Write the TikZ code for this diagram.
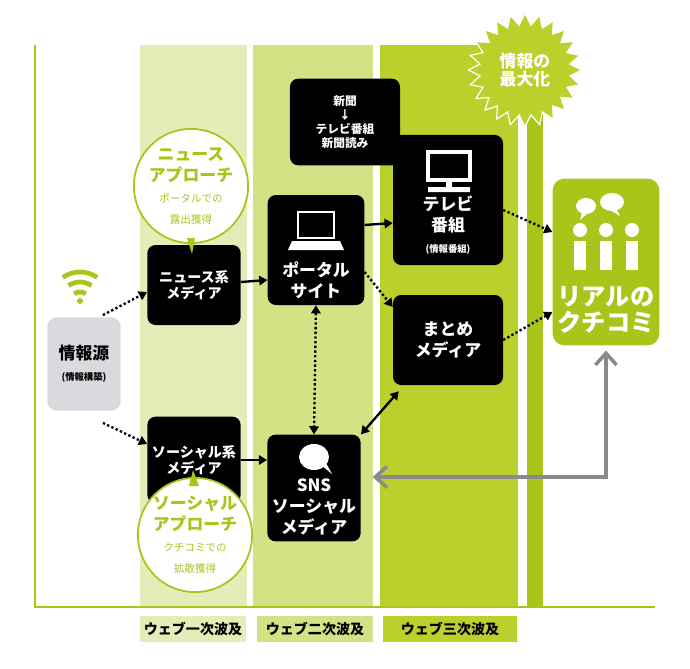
\documentclass[tikz,border=0pt]{standalone}
\usepackage{fontspec}
\setmainfont{Noto Sans CJK JP}
\usetikzlibrary{shapes.geometric,arrows.meta,positioning}
\definecolor{lineg}{HTML}{A8C61A}
\definecolor{bandA}{HTML}{E4ECB8}
\definecolor{bandB}{HTML}{D4E185}
\definecolor{bandC}{HTML}{BCD02C}
\definecolor{srcgray}{HTML}{D9DADE}
\definecolor{backgray}{HTML}{8A8A8C}
\tikzset{
  medbox/.style={fill=black,rounded corners=7pt,text=white,font=\bfseries\large,align=center,inner sep=0pt},
  bubble/.style={circle,draw=lineg,line width=1.5pt,fill=white,align=center,inner sep=0pt,minimum size=3.1cm,
                 text=lineg,font=\bfseries\Large},
  dotarrow/.style={line width=2pt,dotted,-{Triangle[length=7pt,width=8pt]}},
  solarrow/.style={line width=2pt,-{Triangle[length=7pt,width=8pt]}},
  bandlabel/.style={font=\bfseries\large,inner sep=0pt,minimum height=0.8cm}
}
\begin{document}
\begin{tikzpicture}[x=0.03cm,y=-0.03cm]
  \useasboundingbox (0,0) rectangle (690,669);

  % bands
  \fill[bandA] (140,45) rectangle (247,607);
  \fill[bandB] (253,45) rectangle (373,607);
  \fill[bandC] (380,45) rectangle (518,607);
  \fill[lineg] (527,45) rectangle (543,607);
  \draw[lineg,line width=2pt] (35,45) -- (35,607) -- (655,607);

  % band labels
  \node[bandlabel,fill=bandA,minimum width=3.2cm] (w1) at (193,629) {ウェブ一次波及};
  \node[bandlabel,fill=bandB,minimum width=3.5cm] (w2) at (315,629) {ウェブ二次波及};
  \node[bandlabel,fill=bandC,minimum width=4cm] (w3) at (450,629) {ウェブ三次波及};

  % starburst
  \node[star,star points=24,star point ratio=1.25,fill=bandC,draw=white,line width=1pt,
        minimum size=3.4cm,inner sep=0pt] (burst) at (525,70) {};
  \node[text=white,font=\bfseries\Large,align=center] at (burst) {情報の\\[-3pt]最大化};

  % boxes
  \node[medbox,minimum width=3.3cm,minimum height=2.6cm] (paper) at (345,122) {};
  \node[font=\bfseries\normalsize,text=white,align=center] at (paper) {新聞\\↓\\テレビ番組\\新聞読み};
  \node[medbox,minimum width=3.3cm,minimum height=3.9cm] (tv) at (448,200) {};
  \node[medbox,minimum width=2.8cm,minimum height=2.4cm] (news) at (194,285) {ニュース系\\メディア};
  \node[medbox,minimum width=2.9cm,minimum height=3.3cm] (portal) at (316,250) {};
  \node[medbox,minimum width=3.3cm,minimum height=2.7cm,font=\bfseries\Large] (matome) at (448,340) {まとめ\\メディア};
  \node[medbox,minimum width=2.8cm,minimum height=2.6cm] (social) at (194,460) {ソーシャル系\\メディア};
  \node[medbox,minimum width=2.8cm,minimum height=3.2cm] (sns) at (314,488) {};
  \node[fill=lineg,rounded corners=10pt,minimum width=3.2cm,minimum height=5cm] (real) at (606,262) {};
  \node[fill=srcgray,rounded corners=8pt,minimum width=2.2cm,minimum height=2.8cm,align=center,
        font=\bfseries\Large] (src) at (84,364) {情報源\\{\footnotesize (情報構築)}};

  % box texts
  \node[text=white,font=\bfseries\Large,align=center] (tvtxt) at (448,225) {テレビ\\番組\\{\footnotesize (情報番組)}};
  \node[text=white,font=\bfseries\Large,align=center] (portaltxt) at (316,280) {ポータル\\サイト};
  \node[text=white,font=\bfseries\Large,align=center] (snstxt) at (314,507) {SNS\\ソーシャル\\メディア};
  \node[text=white,font=\bfseries\huge,align=center] (realtxt) at (606,310) {リアルの\\[-3pt]クチコミ};

  % icons
  \draw[white,line width=3pt] (428,152) rectangle (470,180);
  \fill[white] (446,180) rectangle (452,187) (428,187) rectangle (470,192);
  \draw[white,line width=2.5pt] (298,212) rectangle (334,238);
  \fill[white] (292,241) -- (340,241) -- (344,250) -- (288,250) -- cycle;
  \fill[white] (314,457) ellipse (15 and 13);
  \fill[white] (321,465) -- (332,474) -- (326,463) -- cycle;
  \foreach \px in {580,606,632} {
    \fill[white] (\px,230) circle (7);
    \fill[white] (\px-6,241) rectangle (\px+6,270);
  }
  \fill[white] (586,206) ellipse (10 and 8) (612,202) ellipse (12 and 9);
  \fill[white] (582,212) -- (580,220) -- (588,213) -- cycle (616,208) -- (620,216) -- (610,210) -- cycle;

  % wifi
  \foreach \r in {10,20,30}
    \draw[lineg,line width=4pt] (80,302) ++(-55:\r) arc (-55:-125:\r);
  \fill[lineg] (80,301) circle (3);

  % bubbles
  \node[bubble] (nbub) at (191,186) {ニュース\\アプローチ\\{\small\mdseries ポータルでの}\\{\small\mdseries 露出獲得}};
  \fill[lineg] (187,238) -- (195,238) -- (192,254) -- cycle;
  \node[bubble] (sbub) at (195,535) {ソーシャル\\アプローチ\\{\small\mdseries クチコミでの}\\{\small\mdseries 拡散獲得}};
  \fill[lineg] (189,486) -- (199,486) -- (193,470) -- cycle;

  % connectors
  \draw[dotarrow] (src.north east) ++(-18,-2) -- (news.west |- 0,292);
  \draw[dotarrow] (src.south east) ++(-18,12) -- (social.west |- 0,444);
  \draw[solarrow] (news.east) ++(0,-3) -- (portal.west |- 0,280);
  \draw[solarrow] (social.east) -- (sns.west |- 0,460);
  \draw[solarrow] (portal.east) ++(0,-25) -- (tv.west |- 0,223);
  \draw[dotarrow] (portal.east) ++(0,22) -- (matome.west |- 0,307);
  \draw[line width=2pt,dotted,{Triangle[length=7pt,width=8pt]}-{Triangle[length=7pt,width=8pt]}] (portal.south) -- (sns.north);
  \draw[line width=2pt,{Triangle[length=7pt,width=8pt]}-{Triangle[length=7pt,width=8pt]}] (matome.south west) ++(6,6) -- (sns.north east);
  \draw[dotarrow] (tv.east) ++(0,10) -- (real.west |- 0,232);
  \draw[dotarrow] (matome.east) -- (real.west |- 0,312);
  \draw[backgray,line width=3pt,-{Straight Barb[length=10pt,width=18pt]}] (real.south) ++(0,13) |- ([xshift=10pt]sns.east |- 0,477);
  \draw[backgray,line width=3pt,-{Straight Barb[length=10pt,width=18pt]}] (real.south) ++(0,115) -- ++(0,-110);
\end{tikzpicture}
\end{document}
